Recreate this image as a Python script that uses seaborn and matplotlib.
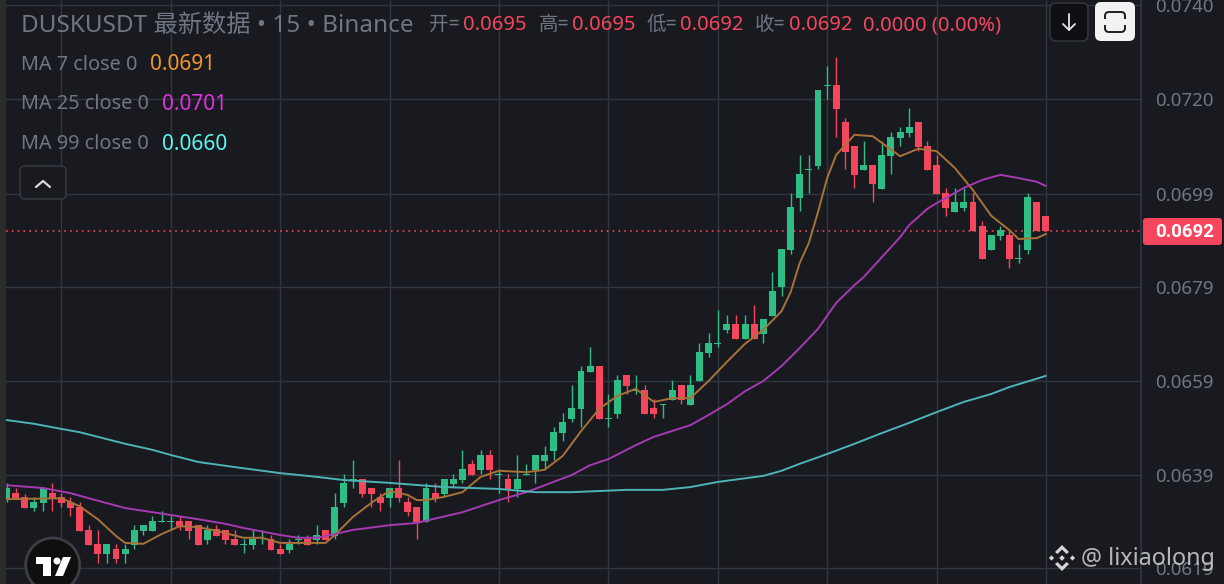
import numpy as np
import pandas as pd
import seaborn as sns
import matplotlib
matplotlib.use('Agg')
import matplotlib.pyplot as plt
from matplotlib.patches import FancyBboxPatch, Rectangle, Circle, Polygon

opens = [6339,6351,6343,6319,6330,6351,6343,6332,6321,6272,
         6241,6220,6231,6220,6239,6269,6269,6290,6290,6291,
         6291,6282,6250,6273,6272,6252,6240,6239,6260,6252,
         6231,6229,6251,6252,6250,6272,6259,6330,6379,6381,
         6362,6343,6340,6362,6332,6321,6289,6351,6349,6371,
         6379,6414,6401,6433,6390,6381,6360,6390,6401,6420,
         6441,6480,6510,6532,6611,6624,6511,6521,6605,6571,
         6572,6534,6541,6551,6583,6540,6592,6652,6672,6701,
         6714,6682,6714,6693,6732,6794,6873,6985,7046,7054,
         7226,7228,7148,7097,7045,7056,7005,7075,7114,7125,
         7148,7097,7056,6996,6955,6964,6977,6925,6873,6903,
         6906,6855,6873,6977,6946]
highs = [6372,6361,6350,6342,6362,6372,6352,6342,6332,6282,
         6272,6241,6241,6241,6282,6282,6302,6312,6302,6302,
         6291,6282,6282,6282,6272,6272,6252,6272,6272,6261,
         6241,6252,6261,6261,6282,6272,6351,6392,6422,6381,
         6362,6351,6362,6422,6343,6321,6373,6373,6381,6392,
         6444,6422,6444,6444,6403,6392,6433,6414,6433,6452,
         6493,6523,6583,6624,6665,6624,6564,6605,6605,6605,
         6583,6553,6542,6594,6583,6605,6674,6695,6744,6734,
         6734,6734,6755,6725,6826,6876,6995,7078,7078,7217,
         7269,7288,7157,7097,7108,7056,7108,7127,7138,7179,
         7148,7108,7078,7007,7007,7007,6996,6936,6906,6925,
         6916,6886,6996,6977,6946]
lows = [6332,6339,6319,6312,6312,6312,6321,6302,6269,6239,
        6201,6201,6201,6201,6231,6261,6269,6289,6272,6272,
        6252,6239,6241,6259,6241,6239,6222,6231,6241,6229,
        6220,6222,6241,6239,6241,6250,6252,6321,6362,6343,
        6321,6313,6321,6332,6302,6252,6289,6332,6343,6364,
        6373,6390,6392,6381,6351,6332,6343,6390,6373,6403,
        6422,6463,6504,6493,6611,6510,6493,6512,6564,6564,
        6521,6512,6512,6551,6543,6540,6592,6644,6665,6695,
        6682,6682,6682,6674,6732,6775,6865,6957,6996,7047,
        7197,7116,7047,7007,7045,6977,7005,7037,7097,7116,
        7086,7045,6994,6946,6955,6957,6914,6854,6873,6895,
        6835,6845,6865,6914,6914]
closes = [6362,6340,6319,6332,6362,6340,6330,6319,6269,6239,
          6220,6241,6209,6231,6272,6282,6291,6291,6291,6280,
          6269,6239,6272,6259,6250,6239,6241,6252,6261,6229,
          6220,6241,6252,6239,6261,6250,6321,6373,6381,6349,
          6349,6330,6362,6340,6310,6289,6362,6340,6381,6381,
          6403,6390,6433,6401,6391,6360,6381,6391,6433,6433,
          6482,6504,6534,6613,6624,6510,6512,6594,6581,6572,
          6521,6521,6542,6572,6551,6583,6654,6674,6673,6714,
          6682,6714,6682,6725,6785,6876,6966,7037,7047,7217,
          7227,7176,7084,7035,7056,7015,7078,7116,7127,7138,
          7095,7045,6994,6964,6977,6977,6914,6854,6906,6916,
          6854,6856,6987,6914,6914]

# moving averages, read at the candles where they bend
ma7_idx = [0,6,8,10,12,13,15,17,19,21,23,26,28,30,35,36,38,40,42,44,45,46,48,50,52,54,57,59,61,63,65,67,69,71,73,75,77,79,81,83,85,86,87,88,89,90,91,93,95,98,100,102,104,106,108,110,111,113,114]
ma7_val = [6338,6340,6323,6295,6259,6244,6242,6263,6280,6278,6270,6255,6255,6244,6244,6261,6300,6330,6356,6347,6336,6336,6343,6353,6386,6399,6396,6401,6431,6484,6532,6560,6575,6547,6555,6555,6592,6633,6672,6702,6742,6783,6846,6889,6955,7028,7078,7121,7118,7075,7091,7086,7050,7002,6947,6916,6897,6899,6908]
ma25_idx = [0,4,7,9,13,16,21,24,26,30,32,34,36,38,42,45,50,54,57,62,64,66,69,71,75,77,79,81,83,85,87,89,91,93,94,96,98,99,101,102,105,107,109,111,113,114]
ma25_val = [6368,6362,6351,6340,6319,6310,6295,6285,6276,6261,6255,6255,6263,6272,6282,6287,6310,6336,6353,6390,6411,6424,6454,6472,6497,6519,6542,6570,6592,6624,6663,6704,6760,6798,6815,6858,6901,6927,6962,6974,7007,7024,7035,7028,7020,7011]
ma99_idx = [0,3,6,8,10,13,16,18,21,25,30,34,37,42,48,54,58,62,68,72,75,78,83,85,87,90,93,96,99,102,105,108,110,114]
ma99_val = [6508,6500,6489,6482,6472,6457,6444,6433,6418,6407,6394,6386,6379,6373,6364,6360,6353,6353,6358,6358,6364,6375,6388,6399,6414,6435,6457,6480,6502,6525,6547,6564,6579,6603]

price_ticks = [0.07400, 0.07198, 0.06994, 0.06793, 0.06592, 0.06390, 0.06190]
time_ticks = [6, 18, 30, 42, 54, 66, 78, 90, 102, 114]
last_price = 0.06914

ma_names = ['MA 7 close 0', 'MA 25 close 0', 'MA 99 close 0']
ma_values = ['0.0691', '0.0701', '0.0660']

BG = '#181a20'
GRID = '#2f3541'
UP = '#2ebd85'
DOWN = '#f6465d'
TEXT = '#6e7684'

sns.set_theme(style='dark')
plt.rcParams['font.family'] = ['Noto Sans', 'Noto Sans CJK SC', 'DejaVu Sans']

W, H = 1224, 584
fig = plt.figure(figsize=(W / 100, H / 100), dpi=100, facecolor=BG)
ax = fig.add_axes([6 / W, 0, (1141 - 6) / W, 1], facecolor=BG)

o = np.array(opens) / 1e5
h = np.array(highs) / 1e5
l = np.array(lows) / 1e5
c = np.array(closes) / 1e5
idx = np.arange(len(o))
colors = [UP if b >= a else DOWN for a, b in zip(o, c)]

# candles, a doji still gets a one pixel body
ax.vlines(idx, l, h, colors=colors, linewidth=1, zorder=2)
body = np.maximum(np.abs(c - o), 0.00002)
ax.bar(idx, body, bottom=np.minimum(o, c), width=0.76, color=colors, linewidth=0, zorder=3)

ma_df = pd.concat([
    pd.DataFrame({'i': ma7_idx, 'price': np.array(ma7_val) / 1e5, 'ma': 'MA7'}),
    pd.DataFrame({'i': ma25_idx, 'price': np.array(ma25_val) / 1e5, 'ma': 'MA25'}),
    pd.DataFrame({'i': ma99_idx, 'price': np.array(ma99_val) / 1e5, 'ma': 'MA99'}),
])
sns.lineplot(data=ma_df, x='i', y='price', hue='ma', estimator=None, sort=False, legend=False, ax=ax,
             palette={'MA7': '#a87238', 'MA25': '#a63ab0', 'MA99': '#4fb3b5'}, linewidth=1.4, zorder=4)

ax.axhline(last_price, color=DOWN, linestyle=(0, (1, 2.5)), linewidth=1.2, zorder=1)

ax.set_xlim((6 - 6.6) / 9.117, (1141 - 6.6) / 9.117)
ax.set_ylim(0.061557, 0.074107)
ax.set_xticks(time_ticks)
ax.set_yticks(price_ticks)
ax.set_yticklabels(['%.4f' % p for p in price_ticks])
ax.set_xlabel('')
ax.set_ylabel('')
ax.yaxis.tick_right()
ax.tick_params(axis='both', length=0, labelbottom=False, labelsize=13.5, labelcolor=TEXT, pad=10)
ax.grid(True, color=GRID, linewidth=1)
ax.set_axisbelow(True)
for s in ['left', 'top', 'bottom']:
    ax.spines[s].set_visible(False)
ax.spines['right'].set_color(GRID)

# everything else is placed in image pixels
ov = fig.add_axes([0, 0, 1, 1])
ov.set_xlim(0, W)
ov.set_ylim(H, 0)
ov.axis('off')

ov.add_patch(Rectangle((0, 0), 6, H, color='#2b2b2b', linewidth=0))

ov.text(21, 26, 'DUSKUSDT 最新数据 • 15 • Binance', color=TEXT, fontsize=17.5, va='center')
for x, s in [(429, '开='), (539, '高='), (647, '低='), (755, '收=')]:
    ov.text(x, 25, s, color=TEXT, fontsize=14, va='center')
for x, s in [(463, '0.0695'), (572, '0.0695'), (680, '0.0692'), (789, '0.0692'), (863, '0.0000 (0.00%)')]:
    ov.text(x, 25, s, color=DOWN, fontsize=14.5, va='center')

for y, name, val, vx, col in zip([65, 104, 144], ma_names, ma_values, [150, 162, 162], ['#f0962e', '#e032e0', '#5ef5ef']):
    ov.text(21, y, name, color=TEXT, fontsize=14.3, va='center')
    ov.text(vx, y, val, color=col, fontsize=15, va='center')

# buttons
ov.add_patch(FancyBboxPatch((1050, 3), 38, 38, boxstyle='round,pad=0,rounding_size=6', fc='#0f1013', ec='#363a42', lw=1))
ov.plot([1069, 1069], [14, 30], color='#e6e6e6', lw=1.3)
ov.plot([1063, 1069, 1075], [24, 30, 24], color='#e6e6e6', lw=1.3)
ov.add_patch(FancyBboxPatch((1095, 2), 40, 39, boxstyle='round,pad=0,rounding_size=6', fc='#f2f2f2', ec='none'))
ov.add_patch(FancyBboxPatch((1105, 12), 20, 20, boxstyle='round,pad=0,rounding_size=4', fc='none', ec='#1c1c1c', lw=1.4))
ov.add_patch(Rectangle((1103, 19), 24, 6, fc='#f2f2f2', ec='none', zorder=5))
ov.add_patch(FancyBboxPatch((20, 166), 46, 33, boxstyle='round,pad=0,rounding_size=5', fc=BG, ec='#363a42', lw=1))
ov.plot([36, 43, 50], [187, 181, 187], color='#d8d8d8', lw=1.6)

# last price tag
ov.add_patch(FancyBboxPatch((1143, 218), 79, 27, boxstyle='round,pad=0,rounding_size=3', fc=DOWN, ec='none'))
ov.text(1184.5, 232, '0.0692', color='white', fontsize=13.5, family='Roboto', fontweight='bold', ha='center', va='center')

# tradingview badge
ov.add_patch(Circle((52.7, 565), 27, fc='#0f0f0f', ec='#3c3e44', lw=2, zorder=6))
ov.add_patch(Polygon([(36, 557), (51, 557), (51, 576), (43, 576), (43, 564), (36, 564)], fc='white', ec='none', zorder=7))
ov.add_patch(Circle((57, 561), 3.5, fc='white', ec='none', zorder=7))
ov.add_patch(Polygon([(63, 557), (71, 557), (63, 576), (55, 576)], fc='white', ec='none', zorder=7))

# binance mark and watermark
def diamond(cx, cy, r):
    ov.add_patch(Polygon([(cx - r, cy), (cx, cy - r), (cx + r, cy), (cx, cy + r)], fc='#d6d6d6', ec='none', zorder=7))

diamond(1062, 558, 2.8)
diamond(1051.5, 558, 2.6)
diamond(1072.5, 558, 2.6)
ov.add_patch(Polygon([(1062, 545), (1069, 552), (1066.5, 554), (1062, 549.5), (1057.5, 554), (1055, 552)], fc='#d6d6d6', ec='none', zorder=7))
ov.add_patch(Polygon([(1062, 571), (1069, 564), (1066.5, 562), (1062, 566.5), (1057.5, 562), (1055, 564)], fc='#d6d6d6', ec='none', zorder=7))
ov.text(1081, 559, '@ lixiaolong', color='#c9c9c9', fontsize=16.8, va='center', alpha=0.9, zorder=7)

fig.savefig('out.png', dpi=100, facecolor=BG)
